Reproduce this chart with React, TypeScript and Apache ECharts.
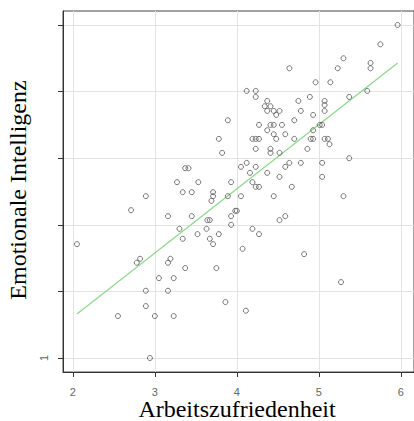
import React, { useEffect, useRef } from "react";
import * as echarts from "echarts";

// Arbeitszufriedenheit (x) and Emotionale Intelligenz (y)
const arbeitszufriedenheit = [
  5.96, 5.75, 5.3, 5.63, 5.63, 5.23, 4.64, 4.96, 5.14, 4.12, 4.23, 4.23, 5.37, 5.59, 4.89, 4.75, 5.07, 5.07, 5.07, 4.37,
  4.34, 4.41, 4.37, 4.45, 4.52, 4.48, 4.78, 4.93, 3.89, 4.7, 4.27, 4.41, 4.45, 4.55, 5.01, 5.04, 4.37, 4.45, 4.59, 4.93,
  3.78, 4.19, 4.23, 4.27, 4.48, 4.7, 4.9, 4.93, 5.07, 5.11, 5.13, 3.82, 4.23, 4.41, 4.41, 4.52, 4.86, 5.37, 4.05, 4.12,
  4.64, 4.59, 4.78, 5.04, 4.16, 4.23, 4.37, 4.52, 5.04, 3.37, 3.41, 3.27, 3.53, 3.93, 4.19, 4.23, 4.27, 4.67, 3.34, 3.45,
  3.71, 3.71, 3.69, 3.89, 4.05, 4.45, 5.3, 2.89, 2.71, 3.98, 4.0, 3.16, 3.45, 3.64, 3.67, 3.93, 4.52, 4.59, 3.3, 3.63,
  3.93, 4.19, 3.34, 3.52, 3.78, 3.67, 3.71, 4.27, 4.07, 4.82, 2.05, 2.78, 2.82, 3.16, 3.19, 3.37, 3.75, 3.05, 3.23, 2.89,
  3.16, 2.89, 2.55, 3.0, 3.23, 2.94, 3.86, 4.11, 5.27,
];
const emotionaleIntelligenz = [
  6.0, 5.71, 5.5, 5.43, 5.35, 5.35, 5.35, 5.14, 5.14, 5.01, 5.01, 4.92, 4.92, 5.01, 4.92, 4.86, 4.86, 4.8, 4.71, 4.86,
  4.78, 4.78, 4.71, 4.71, 4.71, 4.65, 4.71, 4.65, 4.57, 4.57, 4.5, 4.5, 4.5, 4.5, 4.5, 4.5, 4.42, 4.36, 4.36, 4.42,
  4.29, 4.29, 4.29, 4.29, 4.29, 4.29, 4.29, 4.29, 4.29, 4.29, 4.21, 4.08, 4.14, 4.14, 4.08, 4.08, 4.14, 4.0, 3.87, 3.93,
  3.93, 3.87, 3.93, 3.93, 3.78, 3.87, 3.78, 3.72, 3.72, 3.85, 3.85, 3.64, 3.64, 3.64, 3.64, 3.57, 3.57, 3.57, 3.49, 3.49,
  3.49, 3.43, 3.36, 3.43, 3.43, 3.43, 3.43, 3.43, 3.22, 3.21, 3.21, 3.13, 3.13, 3.07, 3.07, 3.13, 3.07, 3.13, 2.94, 2.94,
  3.0, 2.94, 2.79, 2.86, 2.86, 2.79, 2.71, 2.86, 2.64, 2.56, 2.71, 2.43, 2.49, 2.43, 2.49, 2.35, 2.35, 2.2, 2.2, 2.01,
  2.01, 1.78, 1.63, 1.63, 1.63, 1.0, 1.84, 1.71, 2.14,
];

// Regression line end points
const lineX = [2.05, 5.96];
const lineY = [1.66, 5.43];

// Ticks and labels
const xTicks = [2, 3, 4, 5, 6];
const yTicks = [1, 2, 3, 4, 5, 6];
const yTickLabels = [1];

const xTitle = "Arbeitszufriedenheit";
const yTitle = "Emotionale Intelligenz";

export default function App() {
  const ref = useRef<HTMLDivElement>(null);

  useEffect(() => {
    if (!ref.current) return;
    const chart = echarts.init(ref.current, null, { renderer: "svg" });
    const points = arbeitszufriedenheit.map((x, i) => [x, emotionaleIntelligenz[i]]);
    const line = lineX.map((x, i) => [x, lineY[i]]);
    chart.setOption({
      animation: false,
      backgroundColor: "#ffffff",
      grid: {
        left: 63,
        top: 11,
        right: -4,
        bottom: 49,
        show: true,
        borderColor: "#444",
        borderWidth: 1,
        backgroundColor: "transparent",
      },
      xAxis: {
        type: "value",
        min: 1.88,
        max: 6.16,
        axisLine: { show: true, onZero: false, lineStyle: { color: "#333", width: 1 } },
        axisTick: { show: true, length: 5, customValues: xTicks, lineStyle: { color: "#333" } },
        axisLabel: {
          customValues: xTicks,
          color: "#666",
          fontSize: 11,
          fontFamily: "Liberation Sans",
          margin: 14,
        },
        splitLine: { show: true, lineStyle: { color: "#e3e3e3", width: 1 } },
      },
      yAxis: {
        type: "value",
        min: 0.79,
        max: 6.21,
        axisLine: { show: true, onZero: false, lineStyle: { color: "#333", width: 1 } },
        axisTick: { show: true, length: 5, customValues: yTicks, lineStyle: { color: "#333" } },
        axisLabel: {
          customValues: yTickLabels,
          rotate: 90,
          color: "#666",
          fontSize: 11,
          fontFamily: "Liberation Sans",
          margin: 14,
        },
        splitLine: { show: true, lineStyle: { color: "#e3e3e3", width: 1 } },
      },
      series: [
        {
          type: "scatter",
          data: points,
          symbol: "circle",
          symbolSize: 5,
          itemStyle: { color: "rgba(0,0,0,0)", borderColor: "#555", borderWidth: 1 },
          z: 3,
        },
        {
          type: "line",
          data: line,
          symbol: "none",
          lineStyle: { color: "#8fd88f", width: 1.3 },
          z: 2,
        },
      ],
      graphic: [
        {
          type: "text",
          x: 237,
          y: 409,
          style: {
            text: xTitle,
            fontSize: 24,
            fontFamily: "Liberation Serif",
            fill: "#000",
            align: "center",
            verticalAlign: "middle",
          },
        },
        {
          type: "text",
          x: 18,
          y: 190,
          rotation: Math.PI / 2,
          style: {
            text: yTitle,
            fontSize: 24,
            fontFamily: "Liberation Serif",
            fill: "#000",
            align: "center",
            verticalAlign: "middle",
          },
        },
      ],
    });
    return () => chart.dispose();
  }, []);

  return (
    <div
      ref={ref}
      style={{ position: "fixed", left: 0, top: 0, width: 414, height: 421, background: "#fff" }}
    />
  );
}
